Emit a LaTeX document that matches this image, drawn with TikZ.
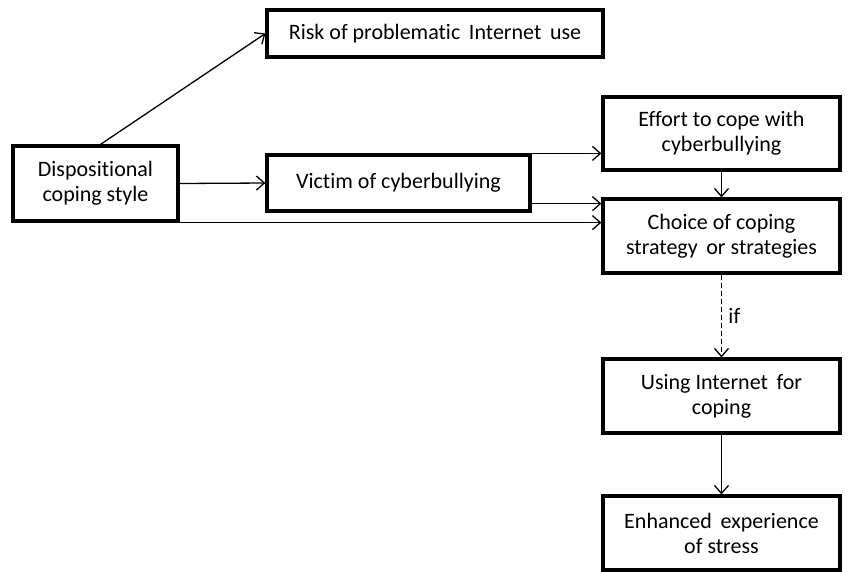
\documentclass[tikz,border=0pt]{standalone}
\usepackage{fontspec}
\setmainfont[Ligatures={NoCommon}]{Carlito}
\usetikzlibrary{arrows.meta,calc}
\begin{document}
\begin{tikzpicture}[x=1pt,y=-1pt,
  box/.style={draw,line width=3.2pt,inner sep=2pt,align=center,font=\fontsize{22}{25}\selectfont},
  conn/.style={line width=1.3pt,-{Straight Barb[length=8pt,width=14pt,line width=1.3pt]}}]
\useasboundingbox (0,0) rectangle (848,571);
\node[box,minimum width=336,minimum height=47] (risk) at (435,33.5) {Risk of problematic\, Internet\, use};
\node[box,minimum width=165,minimum height=75] (disp) at (95.5,183.5) {Dispositional\\coping style};
\node[box,minimum width=263,minimum height=56] (vict) at (398.5,183) {Victim of cyberbullying};
\node[box,minimum width=237,minimum height=73] (eff) at (721.5,133.5) {Effort to cope with\\cyberbullying};
\node[box,minimum width=237,minimum height=74] (choice) at (721.5,236) {Choice of coping\\strategy\, or strategies};
\node[box,minimum width=237,minimum height=74] (using) at (721.5,396) {Using Internet\, for\\coping};
\node[box,minimum width=237,minimum height=74] (enh) at (721.5,533) {Enhanced\, experience\\of stress};
\coordinate (dtop) at ($(disp.north)+(5,0)$);
\draw[conn] (dtop) -- (risk.west);
\draw[conn] (disp.east) -- (vict.west);
\draw[conn] (disp.south east) -- (disp.south east -| choice.west);
\draw[conn] (vict.north east) -- (vict.north east -| eff.west);
\coordinate (vlow) at ($(vict.south east)+(0,-9)$);
\draw[conn] (vlow) -- (vlow -| choice.west);
\draw[conn] (eff.south) -- (choice.north);
\draw[conn,dashed,dash pattern=on 5pt off 3pt] (choice.south) -- node[right,xshift=3pt,font=\fontsize{22}{25}\selectfont] (iflab) {if} (using.north);
\draw[conn] (using.south) -- (enh.north);
\end{tikzpicture}
\end{document}
